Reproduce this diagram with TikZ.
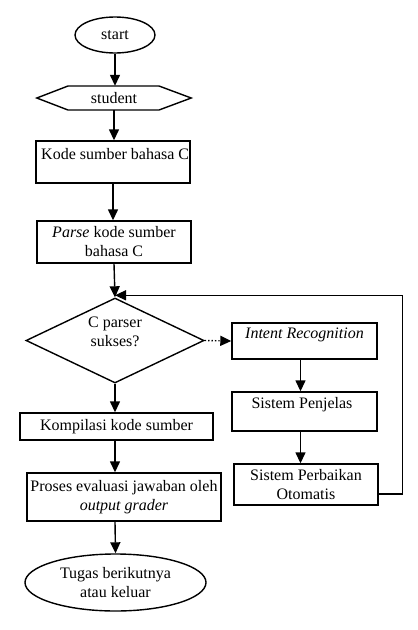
\documentclass[tikz,border=0pt]{standalone}
\usepackage{fontspec}
\setmainfont{Liberation Serif}
\usetikzlibrary{arrows.meta,shapes.geometric}
\begin{document}
\begin{tikzpicture}[x=1pt,y=-1pt,
  lw/.style={line width=1.4pt},
  txt/.style={font=\fontsize{16}{19}\selectfont,align=center,inner sep=0pt},
  box/.style={draw,lw,rectangle,inner sep=0pt,txt},
  oval/.style={draw,lw,ellipse,inner sep=0pt,txt},
  arr/.style={lw,-{Triangle[length=11pt,width=10pt]}}]
\useasboundingbox[fill=white] (0,0) rectangle (418,630);

% nodes
\node[oval,minimum width=80pt,minimum height=36pt] (start) at (115,35) {start};
\node[txt,minimum width=154pt,minimum height=24pt] (student) at (114,98) {student};
\draw[lw] (student.west) -- (68,86) -- (159,86) -- (student.east) -- (159,110) -- (68,110) -- cycle;
\node[box,minimum width=154pt,minimum height=42pt] (kode) at (113,162) {};
\begin{scope}
  \clip (kode.south west) rectangle (kode.north east);
  \node[txt,anchor=base west] (kodetxt) at (41,159) {Kode sumber bahasa C};
\end{scope}
\node[box,minimum width=154pt,minimum height=42pt] (parse) at (114,242) {\textit{Parse} kode sumber\\bahasa C};
\node[draw,lw,diamond,minimum width=178pt,minimum height=85pt,inner sep=0pt] (dec) at (115,340.5) {};
\node[txt] (dectxt) at (115,332) {C parser\\sukses?};
\node[box,minimum width=193pt,minimum height=27pt] (komp) at (116.5,426.5) {Kompilasi kode sumber};
\node[box,minimum width=194pt,minimum height=48pt] (proses) at (124,497) {Proses evaluasi jawaban oleh\\\textit{output grader}};
\node[oval,minimum width=181pt,minimum height=57pt] (end) at (115.5,582.5) {Tugas berikutnya\\atau keluar};

\node[box,minimum width=145pt,minimum height=36pt] (intent) at (304.5,341) {};
\node[txt,anchor=base] (intenttxt) at (304.5,338) {\textit{Intent Recognition}};
\node[box,minimum width=145pt,minimum height=39pt] (penj) at (304.5,411.5) {};
\node[txt,anchor=base] (penjtxt) at (302,408) {Sistem Penjelas};
\node[box,minimum width=144pt,minimum height=41pt] (perb) at (306,484.5) {Sistem Perbaikan\\Otomatis};

% connectors
\draw[arr] (start.south) -- (start.south |- student.north);
\draw[arr] (student.south) -- (student.south |- kode.north);
\draw[arr] (kode.south) -- (kode.south |- parse.north);
\draw[arr] (parse.south) -- (dec.north);
\draw[arr] (dec.south) -- (dec.south |- komp.north);
\draw[arr] (dec.south |- komp.south) -- (dec.south |- proses.north);
\draw[arr] (dec.south |- proses.south) -- (end.north);
\draw[arr,dotted] (dec.east) -- (intent.west);
\draw[arr] ([xshift=-4pt]intent.south) -- ([xshift=-4pt]intent.south |- penj.north);
\draw[arr] ([xshift=-4pt]penj.south) -- ([xshift=-4pt]penj.south |- perb.north);
\draw[arr] ([yshift=-9.5pt]perb.east) -- ++(24,0) |- ([yshift=2pt]dec.north);
\end{tikzpicture}
\end{document}
